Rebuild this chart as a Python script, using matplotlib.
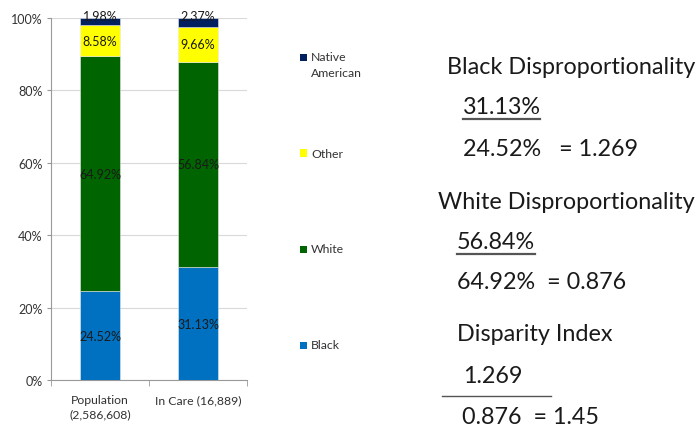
import matplotlib
matplotlib.use("Agg")
import matplotlib.pyplot as plt
from matplotlib.patches import Rectangle
from matplotlib.lines import Line2D
import numpy as np

categories = ["Population\n(2,586,608)", "In Care (16,889)"]
series_names = ["Black", "White", "Other", "Native\nAmerican"]
black = [24.52, 31.13]
white = [64.92, 56.84]
other = [8.58, 9.66]
native = [1.98, 2.37]
colors = ["#0070C0", "#006400", "#FFFF00", "#002060"]
yticks = [0, 20, 40, 60, 80, 100]

FONT = "Lato"
plt.rcParams['font.family'] = [FONT, 'DejaVu Sans']

fig = plt.figure(figsize=(6.99, 4.31), dpi=100)
fig.patch.set_facecolor("white")
ax = fig.add_axes([51/699, 1-381/431, 196/699, 362/431])

x = np.arange(len(categories))
bottom = np.zeros(len(categories))
all_vals = [black, white, other, native]
for si, (name, vals, col) in enumerate(zip(series_names, all_vals, colors)):
    vals = np.array(vals)
    ax.bar(x, vals, width=0.4, bottom=bottom, color=col, edgecolor="#e8e8e8",
           linewidth=0.4, zorder=3)
    for xi, b, v in zip(x, bottom, vals):
        ypos = b + v/2 if si < 3 else b + v + 0.6
        ax.text(xi, ypos, f"{v:.2f}%", ha="center", va="center",
                fontsize=9, color="#1a1a1a", zorder=4)
    bottom += vals

ax.set_xlim(-0.5, 1.5)
ax.set_ylim(0, 100)
ax.set_yticks(yticks)
ax.set_yticklabels([f"{t}%" for t in yticks], fontsize=9, color="#333333")
ax.set_xticks(x)
ax.set_xticklabels(categories, fontsize=8.8, color="#333333", linespacing=1.35)
ax.tick_params(axis="x", which="major", length=0, pad=10)
ax.set_xticks([-0.5, 0.5, 1.5], minor=True)
ax.tick_params(axis="x", which="minor", length=4, color="#999999")
ax.tick_params(axis="y", length=3, color="#999999", pad=3)
ax.grid(axis="y", color="#d9d9d9", linewidth=0.8, zorder=0)
for s in ["top", "right"]:
    ax.spines[s].set_visible(False)
for s in ["left", "bottom"]:
    ax.spines[s].set_color("#999999")
    ax.spines[s].set_linewidth(0.8)

# Legend (manual, spread vertically like Excel)
leg_y = [346, 250, 154, 58]
for name, col, yy in zip(series_names, colors, leg_y):
    fig.patches.append(Rectangle((300/699, 1-(yy+3.5)/431), 7/699, 7/431,
                                 transform=fig.transFigure, facecolor=col,
                                 edgecolor="none"))
    if "\n" in name:
        fig.text(311/699, 1-(yy-6)/431, name, fontsize=8.8, color="#333333",
                 ha="left", va="top", linespacing=1.6)
    else:
        fig.text(311/699, 1-yy/431, name, fontsize=8.8, color="#333333",
                 ha="left", va="center")

# Right-side text
def ftxt(xp, yp, s, size=16.8):
    fig.text(xp/699, 1-yp/431, s, fontsize=size, color="#1a1a1a",
             ha="left", va="center")

ftxt(447, 67, "Black Disproportionality")
ftxt(463, 108, "31.13%")
fig.add_artist(Line2D([463/699, 540/699], [1-120/431, 1-120/431],
                      color="#555555", linewidth=1.6))
ftxt(463, 150, "24.52%   = 1.269")
ftxt(438, 203, "White Disproportionality")
ftxt(457, 243, "56.84%")
fig.add_artist(Line2D([457/699, 535/699], [1-255/431, 1-255/431],
                      color="#555555", linewidth=1.6))
ftxt(457, 283, "64.92%  = 0.876")
ftxt(457, 335, "Disparity Index")
ftxt(463, 377, "1.269")
fig.add_artist(Line2D([442/699, 551/699], [1-397/431, 1-397/431],
                      color="#555555", linewidth=1.0))
ftxt(462, 418, "0.876  = 1.45")

fig.savefig("out.png", dpi=100)
